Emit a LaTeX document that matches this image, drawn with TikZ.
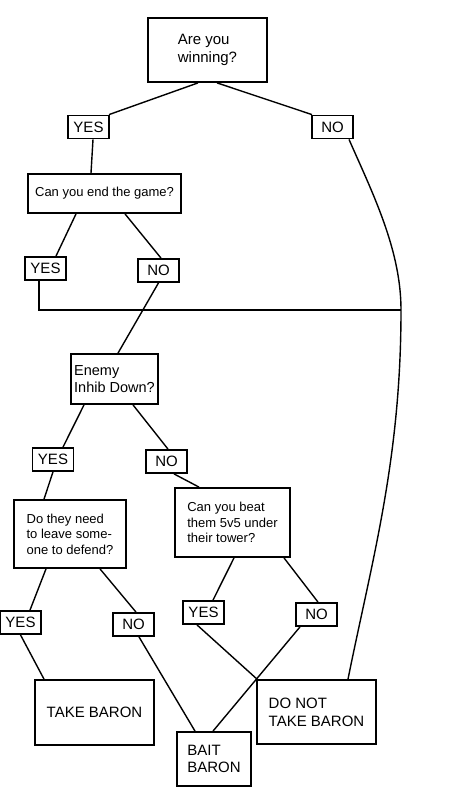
\documentclass[tikz,border=0pt]{standalone}
\usepackage{fontspec}
\setmainfont{Liberation Sans}
\begin{document}
\begin{tikzpicture}[%
            x=1pt, y=-1pt,
            mybox/.style={draw, line width=1.8pt, align=left, inner sep=0pt,
                font=\fontsize{15}{17.7}\selectfont},
            mysmallbox/.style={mybox, font=\fontsize{13}{15.5}\selectfont},
            myanswer/.style={draw, line width=1.8pt, inner sep=0pt,
                minimum width=41pt, minimum height=23pt,
                font=\fontsize{15}{18}\selectfont},
            myline/.style={line width=1.4pt}
    ]
    \useasboundingbox (0,0) rectangle (450,800);

    \node [mybox, minimum width=119pt, minimum height=64pt] (win) at (207.5,50)
        {Are you\\winning?};
    \node [mysmallbox, minimum width=153pt, minimum height=39pt] (endgame) at (104.5,193.5)
        {Can you end the game?};
    \node [mybox, minimum width=87pt, minimum height=50pt,
        font=\fontsize{14.5}{17}\selectfont] (inhib) at (114.5,379)
        {Enemy\\Inhib Down?};
    \node [mysmallbox, minimum width=112pt, minimum height=68pt] (defend) at (70,534)
        {Do they need\\to leave some-\\one to defend?};
    \node [mysmallbox, minimum width=115pt, minimum height=69pt] (tower) at (232.5,522.5)
        {Can you beat\\them 5v5 under\\their tower?};
    \node [mybox, minimum width=119pt, minimum height=65pt] (take) at (94.5,712.5)
        {TAKE BARON};
    \node [mybox, minimum width=74pt, minimum height=54pt] (bait) at (214,759)
        {BAIT\\BARON};
    \node [mybox, minimum width=119pt, minimum height=64pt] (donot) at (316.5,712)
        {DO NOT\\TAKE BARON};

    \foreach \n/\t/\x/\y in
        {yesA/YES/88.5/127, noA/NO/332.5/127,
         yesB/YES/45.5/268.5, noB/NO/158.5/270.5,
         yesC/YES/53/459.5, noC/NO/166.5/461.5,
         yesD/YES/20.5/622.5, noD/NO/133.5/624.5,
         yesE/YES/203.5/612.5, noE/NO/316.5/614.5}
        \node [myanswer] (\n) at (\x,\y) {\t};

    \foreach \a/\sa/\b/\sb in
        {win/-9.5/yesA/20.5, win/9.5/noA/-20.5,
         yesA/4.5/endgame/-13.5,
         endgame/-28.5/yesB/10.5, endgame/20.5/noB/2.5,
         noB/0/inhib/3.5,
         inhib/-30.5/yesC/10, inhib/18.5/noC/1.5,
         yesC/0/defend/-26, noC/7.5/tower/-33.5,
         defend/-24/yesD/9.5, defend/30/noD/2.5,
         tower/1.5/yesE/9.5, tower/51.5/noE/1.5,
         yesD/0/take/-50.5, noD/5.5/bait/-19,
         yesE/-6.5/donot/-59.5, noE/-16.5/bait/-1}
        \draw [myline] ([xshift=\sa pt]\a.south) -- ([xshift=\sb pt]\b.north);

    \coordinate (junc) at (401,310);
    \draw [myline] ([xshift=-6.5pt]yesB.south) |- (junc);
    \draw [myline] ([xshift=16.5pt]noA.south)
        .. controls (373,194) and (401,250) .. (junc)
        .. controls (401,460) and (372,560) .. ([xshift=31.5pt]donot.north);
\end{tikzpicture}
\end{document}
